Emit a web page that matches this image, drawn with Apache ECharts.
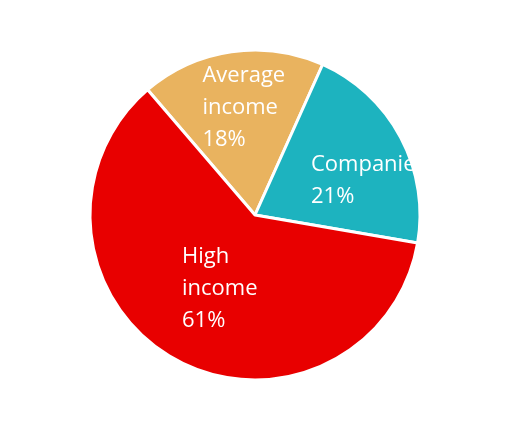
<!DOCTYPE html>
<html><head><meta charset="utf-8">
<script src="https://cdn.jsdelivr.net/npm/echarts@6/dist/echarts.min.js"></script>
<style>html,body{margin:0;padding:0;background:#fff}#c{width:510px;height:432px}</style>
</head><body><div id="c"></div>
<script>
const categories = ['Average\nincome', 'Companies', 'High\nincome'];
const values = [18, 21, 61];
const colors = ['#E9B35F', '#1DB3BF', '#E80000'];
const labelOffsets = [[1, -23], [38, 6], [7, -1]];

const chart = echarts.init(document.getElementById('c'), null, {renderer: 'canvas'});
chart.setOption({
  animation: false,
  backgroundColor: '#fff',
  series: [{
    type: 'pie',
    center: [255, 215],
    radius: [0, 165],
    startAngle: 130.6,
    clockwise: true,
    avoidLabelOverlap: false,
    itemStyle: { borderColor: '#fff', borderWidth: 3 },
    label: {
      show: true,
      position: 'inside',
      color: '#fff',
      fontFamily: 'Open Sans',
      fontSize: 22,
      lineHeight: 32,
      formatter: p => (p.name + '\n' + p.value + '%').split('\n').map(s => '{a|' + s + '}').join('\n'),
      rich: { a: { align: 'left', color: '#fff', fontFamily: 'Open Sans', fontSize: 22, lineHeight: 32 } }
    },
    labelLine: { show: false },
    emphasis: { disabled: true },
    data: categories.map((c, i) => ({
      name: c, value: values[i],
      itemStyle: { color: colors[i] },
      label: { offset: labelOffsets[i] }
    }))
  }]
});
</script></body></html>
